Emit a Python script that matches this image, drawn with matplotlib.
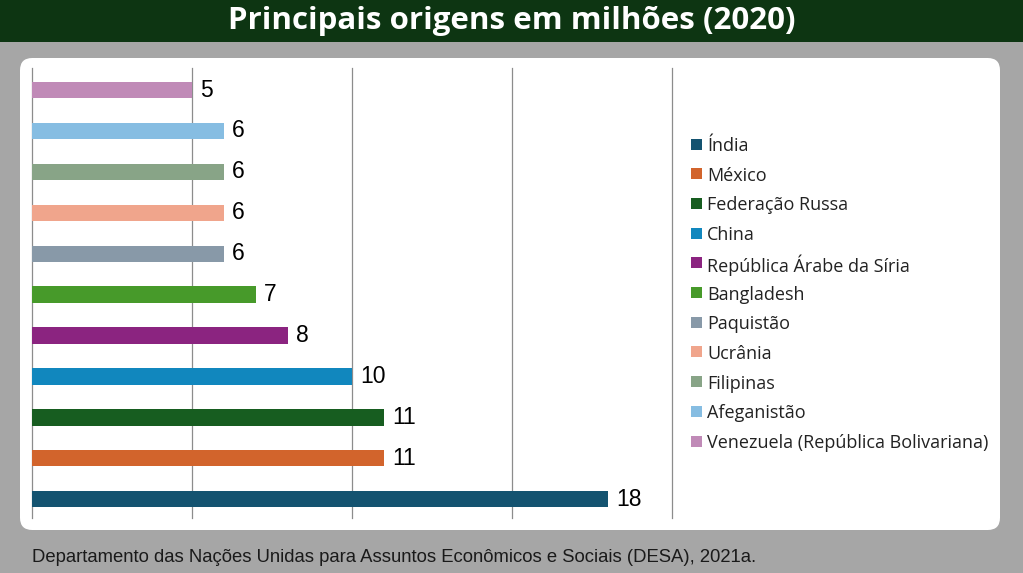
import matplotlib.pyplot as plt
from matplotlib.patches import FancyBboxPatch, Rectangle

# data
paises = ["Índia", "México", "Federação Russa", "China",
          "República Árabe da Síria", "Bangladesh", "Paquistão",
          "Ucrânia", "Filipinas", "Afeganistão",
          "Venezuela (República Bolivariana)"]
milhoes = [18, 11, 11, 10, 8, 7, 6, 6, 6, 6, 5]
cores = ["#145370", "#d2642c", "#175d20", "#1187be", "#8b2480", "#479a2a",
         "#8899a8", "#f0a58c", "#88a487", "#86bde2", "#c08ab7"]

W, H = 1023, 573
fig = plt.figure(figsize=(W / 100, H / 100), dpi=100)
fig.patch.set_facecolor("#a6a6a6")

# title bar
fig.patches.append(Rectangle((0, 1 - 42 / H), 1, 42 / H, transform=fig.transFigure,
                             facecolor="#0d3512", edgecolor="none", zorder=-10))
fig.text(0.5, 1 - 21 / H, "Principais origens em milhões (2020)", color="white",
         fontsize=22.5, fontweight="bold", family="Open Sans", ha="center", va="center")

# white panel
fig.patches.append(FancyBboxPatch((20 / W, 1 - 530 / H), 980 / W, 472 / H,
                                  boxstyle="round,pad=0,rounding_size=0.012",
                                  transform=fig.transFigure, facecolor="white",
                                  edgecolor="none", zorder=-10,
                                  mutation_aspect=W / H))

ax = fig.add_axes([32 / W, 55 / H, 640 / W, 450 / H])
ax.set_facecolor("none")
y = list(range(len(paises)))
ax.barh(y, milhoes, height=0.4, color=cores, zorder=3)
for yi, v in zip(y, milhoes):
    ax.text(v + 0.25, yi, str(v), va="center", ha="left", fontsize=16.5,
            family="Liberation Sans", color="black")

ax.set_xlim(0, 20)
ax.set_ylim(-0.46, 10.54)
ax.set_xticks([0, 5, 10, 15, 20])
ax.grid(axis="x", color="#8c8c8c", linewidth=0.9)
for gl in ax.get_xgridlines():
    gl.set_clip_on(False)
ax.tick_params(left=False, bottom=False, labelleft=False, labelbottom=False)
for s in ax.spines.values():
    s.set_visible(False)

# legend drawn by hand so the rows stay evenly spaced
leg_top, leg_step, sq = 144, 29.7, 11
for i, (p, c) in enumerate(zip(paises, cores)):
    yc = leg_top + i * leg_step
    fig.patches.append(Rectangle((691 / W, 1 - (yc + sq / 2) / H), sq / W, sq / H,
                                 transform=fig.transFigure, facecolor=c,
                                 edgecolor="none"))
    fig.text(707 / W, 1 - yc / H, p, fontsize=13, family="Open Sans",
             color="#222222", ha="left", va="center_baseline")

fig.text(32 / W, 1 - 558 / H,
         "Departamento das Nações Unidas para Assuntos Econômicos e Sociais (DESA), 2021a.",
         fontsize=13.3, family="Liberation Sans", color="#1a1a1a", ha="left", va="center")

fig.savefig("out.png", dpi=100, facecolor=fig.get_facecolor())
